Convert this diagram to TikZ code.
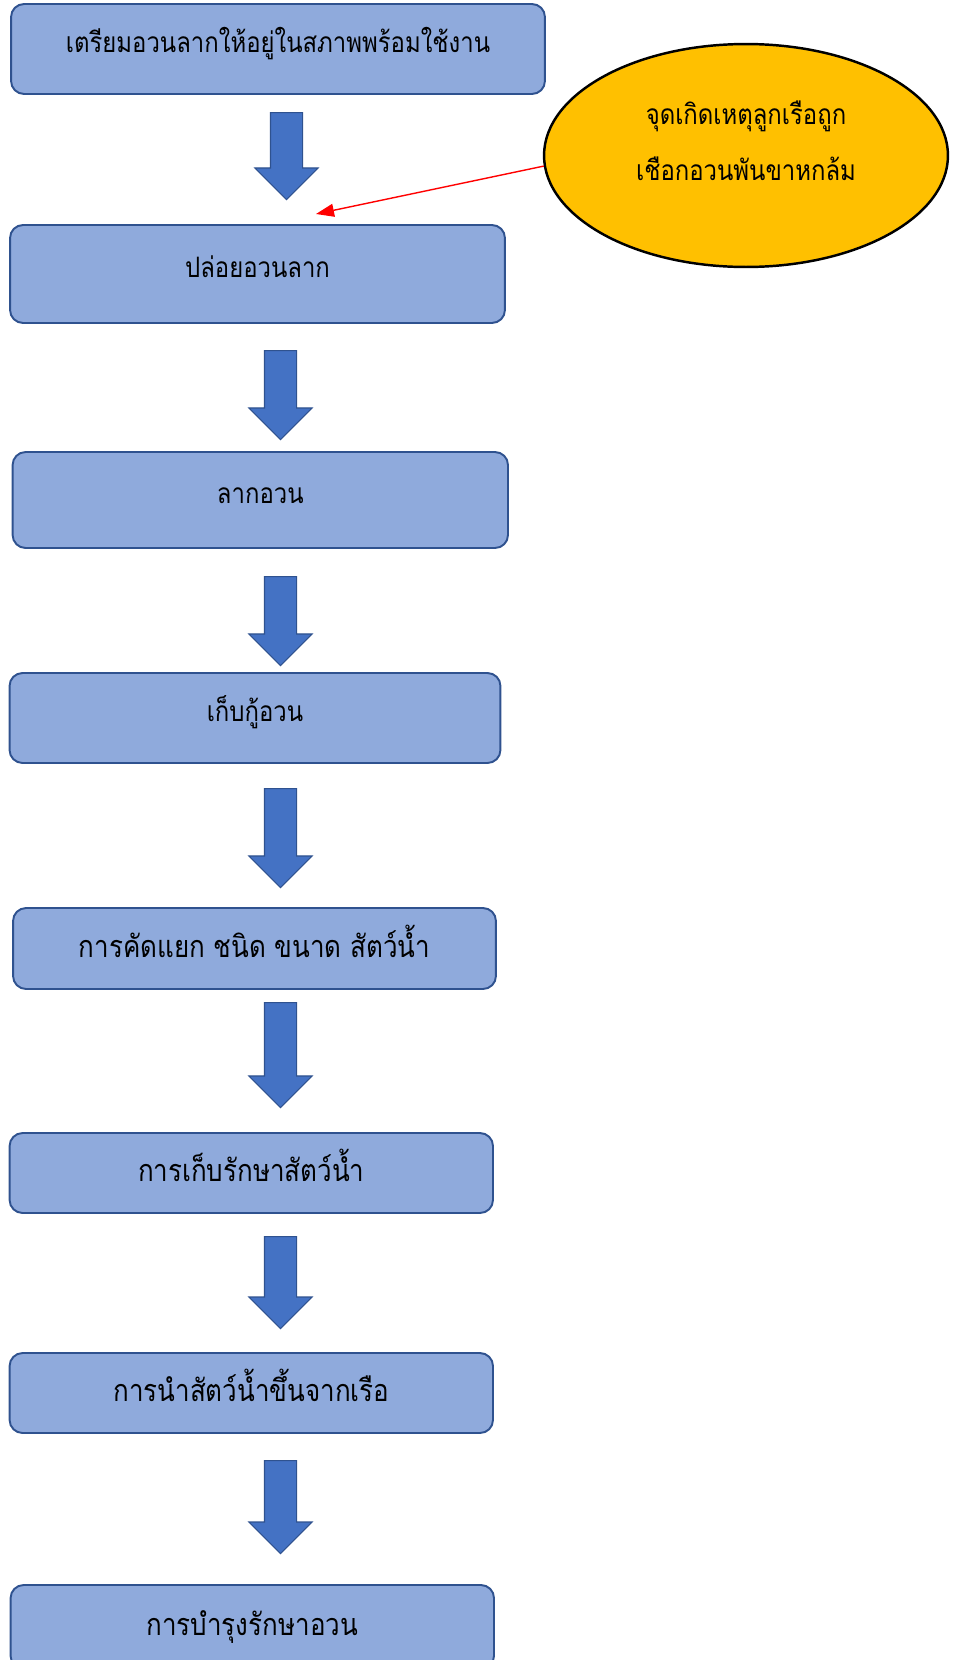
\documentclass[tikz,border=0pt]{standalone}
\usepackage{fontspec}
\newfontfamily\thaifont[Script=Thai,FakeStretch=0.85]{Loma}
\usepackage{tikz}
\usetikzlibrary{shapes.geometric,shapes.arrows,arrows.meta}
\definecolor{boxfill}{HTML}{8FAADC}
\definecolor{boxline}{HTML}{2F528F}
\definecolor{arrowfill}{HTML}{4472C4}
\definecolor{notefill}{HTML}{FFC000}

\begin{document}
\begin{tikzpicture}[x=0.02cm,y=-0.02cm,
  stepbox/.style={draw=boxline,line width=1.1pt,fill=boxfill,rounded corners=0.26cm,
    inner sep=0pt,text height=0.8em,text depth=0.45em,font=\thaifont\fontsize{16}{19}\selectfont},
  bigstep/.style={stepbox,text height=1.1em,text depth=0.1em,font=\thaifont\fontsize{17.4}{21}\selectfont},
  downarrow/.style={single arrow,draw=boxline,line width=0.6pt,fill=arrowfill,
    shape border rotate=270,inner sep=0.31cm,single arrow head extend=0.31cm,
    minimum width=1.24cm,anchor=tail},
  note/.style={ellipse,draw=black,line width=1.4pt,fill=notefill,
    minimum width=8.08cm,minimum height=4.46cm},
  notetext/.style={align=center,font=\thaifont\fontsize{16}{31.8}\selectfont}]
 \useasboundingbox (0,0) rectangle (956,1660);

 \draw (278,49) node[stepbox,minimum width=10.68cm,minimum height=1.8cm] (prepare) {เตรียมอวนลากให้อยู่ในสภาพพร้อมใช้งาน};
 \draw (257.5,274) node[stepbox,minimum width=9.9cm,minimum height=1.96cm] (release) {ปล่อยอวนลาก};
 \draw (260.3,500) node[stepbox,minimum width=9.91cm,minimum height=1.92cm] (drag) {ลากอวน};
 \draw (255,718) node[stepbox,minimum width=9.82cm,minimum height=1.8cm] (haul) {เก็บกู้อวน};
 \draw (254.5,948.5) node[bigstep,minimum width=9.66cm,minimum height=1.62cm] (sort) {การคัดแยก ชนิด ขนาด สัตว์น้ำ};
 \draw (251.3,1173) node[bigstep,minimum width=9.67cm,minimum height=1.6cm] (store) {การเก็บรักษาสัตว์น้ำ};
 \draw (251.3,1393) node[bigstep,minimum width=9.67cm,minimum height=1.6cm] (unload) {การนำสัตว์น้ำขึ้นจากเรือ};
 \draw (252.3,1627) node[bigstep,minimum width=9.67cm,minimum height=1.68cm] (repair) {การบำรุงรักษาอวน};

 \draw (286.5,112) node[downarrow,minimum height=1.74cm] (a1) {};
 \draw (280.5,350) node[downarrow,minimum height=1.78cm] (a2) {};
 \draw (280.5,576) node[downarrow,minimum height=1.78cm] (a3) {};
 \draw (280.5,788) node[downarrow,minimum height=1.98cm] (a4) {};
 \draw (280.5,1002) node[downarrow,minimum height=2.1cm] (a5) {};
 \draw (280.5,1236) node[downarrow,minimum height=1.84cm] (a6) {};
 \draw (280.5,1460) node[downarrow,minimum height=1.86cm] (a7) {};

 \draw (746,155.5) node[note] (accident) {};
 \draw (746,141) node[notetext] (accidenttext) {จุดเกิดเหตุลูกเรือถูก\\เชือกอวนพันขาหกล้ม};
 \coordinate (hit) at (316,214);
 \draw[-{Triangle[length=0.36cm,width=0.26cm]},red,line width=0.8pt] (accident.183) -- (hit);
\end{tikzpicture}
\end{document}
